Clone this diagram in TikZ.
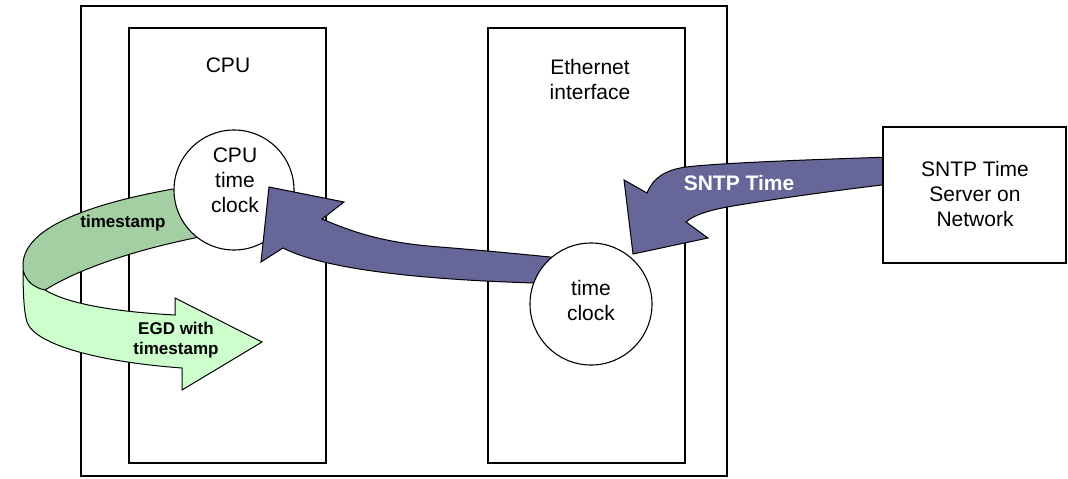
\documentclass[tikz,border=0pt]{standalone}
\usepackage{fontspec}
\setmainfont{Liberation Sans}
\begin{document}
\begin{tikzpicture}[x=1pt,y=-1pt,
  box/.style={draw=black, line width=1.2pt, inner sep=0pt},
  clockc/.style={draw=black, line width=1.1pt, fill=white, circle, inner sep=0pt},
  lbl/.style={align=center, font=\fontsize{21}{25}\selectfont},
  blbl/.style={align=center, font=\fontsize{17}{20}\selectfont\bfseries},
  purp/.style={fill=arrowpurple, draw=black, line width=1pt, line join=miter},
  grn/.style={draw=black, line width=1pt}]
\definecolor{arrowpurple}{HTML}{666699}
\definecolor{darkgreen}{HTML}{A3CFA3}
\definecolor{lightgreen}{HTML}{CCFFCC}
\useasboundingbox (0,0) rectangle (1068,479);
% frames
\node[box, minimum width=646, minimum height=470] (outer) at (404,241) {};
\node[box, minimum width=197, minimum height=435] (cpu) at (227.5,245.5) {};
\node[box, minimum width=197, minimum height=435] (eth) at (586.5,245.5) {};
% green curved arrow: dark upper band
\fill[darkgreen] (205,182) -- (173,189) .. controls (100,202) and (23,225) .. (23,265) -- (23,270)
  .. controls (26,282) and (35,288) .. (45,290)
  .. controls (80,268) and (140,248) .. (210,235) -- cycle;
\draw[grn] (173,189) .. controls (100,202) and (23,225) .. (23,265);
\draw[grn] (45,290) .. controls (80,268) and (140,248) .. (210,235);
% light lower band with head
\filldraw[grn, fill=lightgreen, line join=miter] (23,265) .. controls (23,295) and (24,312) .. (27,322)
  .. controls (35,345) and (100,362) .. (182,368) -- (182,390) -- (262,342) -- (175,298) -- (175,315)
  .. controls (120,312) and (70,305) .. (45,290)
  .. controls (35,288) and (26,282) .. (23,270) -- cycle;
% CPU clock
\node[clockc, minimum size=120] (cpuclk) at (234,190) {};
% purple arrow from Ethernet clock to CPU clock
\filldraw[purp] (269,187) -- (344,202) -- (322,219)
  .. controls (355,233) and (385,243) .. (440,247)
  .. controls (490,251) and (530,255) .. (560,258)
  -- (560,283) -- (533,283)
  .. controls (440,280) and (330,272) .. (283,248)
  -- (261,262) -- cycle;
% Ethernet clock
\node[clockc, minimum size=122] (ethclk) at (591,304) {};
% SNTP arrow
\filldraw[purp] (890,157) .. controls (800,160) and (720,163) .. (686,167)
  .. controls (665,170) and (653,178) .. (647,193)
  -- (624,180) -- (633,254) -- (708,238) -- (686,222)
  .. controls (695,214) and (712,210) .. (727,207)
  .. controls (780,198) and (840,190) .. (890,184) -- cycle;
% SNTP server box
\node[box, fill=white, minimum width=183, minimum height=136] (sntp) at (974.5,195) {};
% texts
\node[lbl] (cpulbl) at (228,65) {CPU};
\node[lbl] (ethlbl) at (590,79) {Ethernet\\interface};
\node[lbl] (cpuclktxt) at (235,180) {CPU\\time\\clock};
\node[lbl] (ethclktxt) at (591,300) {time\\clock};
\node[lbl] (sntptxt) at (975,194) {SNTP Time\\Server on\\Network};
\node[blbl] (ts) at (123,223) {timestamp};
\node[blbl] (egd) at (176,340) {EGD with\\timestamp};
\node[align=center, font=\fontsize{21}{25}\selectfont\bfseries, text=white] (sntplbl) at (739,183) {SNTP Time};
\end{tikzpicture}
\end{document}
